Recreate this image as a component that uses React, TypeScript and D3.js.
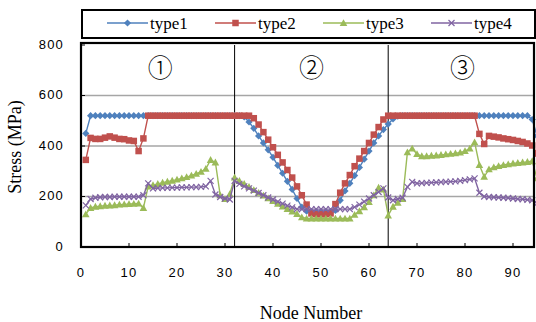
import React from "react";
import * as d3 from "d3";

const nodes = d3.range(1, 96);

const type1 = [
  450, 520, 520, 520, 520, 520, 520, 520, 520, 520,
  520, 520, 520, 520, 520, 520, 520, 520, 520, 520,
  520, 520, 520, 520, 520, 520, 520, 520, 520, 520,
  520, 520, 520, 515, 495, 470, 440, 412, 385, 355,
  323, 292, 260, 228, 192, 158, 142, 140, 140, 140,
  140, 140, 145, 185, 222, 252, 283, 315, 348, 380,
  412, 440, 465, 487, 507, 518, 520, 520, 520, 520,
  520, 520, 520, 520, 520, 520, 520, 520, 520, 520,
  520, 520, 520, 520, 520, 520, 520, 520, 520, 520,
  520, 520, 520, 505, 440,
];

const type2 = [
  345, 432, 428, 428, 433, 438, 433, 428, 427, 422,
  420, 380, 430, 520, 520, 520, 520, 520, 520, 520,
  520, 520, 520, 520, 520, 520, 520, 520, 520, 520,
  520, 520, 520, 520, 520, 510, 485, 455, 425, 395,
  365, 335, 305, 275, 240, 205, 168, 133, 130, 130,
  130, 133, 170, 215, 252, 285, 320, 350, 380, 412,
  445, 475, 505, 520, 520, 520, 520, 520, 520, 520,
  520, 520, 520, 520, 520, 520, 520, 520, 520, 520,
  520, 520, 448, 408, 440, 437, 434, 430, 427, 424,
  420, 416, 410, 402, 370,
];

const type3 = [
  130, 155, 160, 162, 164, 165, 166, 168, 169, 170,
  171, 172, 155, 240, 245, 250, 255, 259, 263, 267,
  272, 277, 283, 290, 298, 310, 345, 335, 205, 190,
  210, 275, 262, 250, 238, 226, 215, 204, 193, 182,
  171, 161, 151, 141, 131, 118, 113, 113, 113, 113,
  113, 113, 113, 113, 113, 113, 128, 142, 158, 178,
  205, 235, 228, 125, 160, 175, 190, 375, 390, 368,
  360, 360, 362, 363, 365, 367, 369, 371, 374, 380,
  390, 415, 325, 278, 308, 316, 321, 325, 328, 331,
  333, 335, 337, 340, 272,
];

const type4 = [
  165, 190, 195, 197, 198, 198, 199, 199, 199, 199,
  199, 199, 205, 252, 232, 233, 234, 234, 235, 235,
  236, 236, 237, 237, 238, 240, 262, 208, 198, 192,
  188, 262, 250, 240, 232, 223, 214, 205, 196, 188,
  180, 172, 164, 157, 150, 150, 150, 150, 150, 150,
  150, 150, 150, 150, 150, 150, 158, 168, 180, 192,
  205, 218, 232, 196, 185, 190, 195, 238, 258, 252,
  253, 254, 255, 256, 257, 258, 259, 260, 262, 265,
  268, 272, 215, 200, 198, 197, 196, 195, 194, 192,
  190, 189, 187, 185, 173,
];

const seriesNames = ["type1", "type2", "type3", "type4"];
const seriesValues = [type1, type2, type3, type4];
const seriesColors = ["#4F81BD", "#C0504D", "#9BBB59", "#8064A2"];
const markerKinds = ["diamond", "square", "triangle", "x"];

const xTicks = [0, 10, 20, 30, 40, 50, 60, 70, 80, 90];
const yTicks = [0, 200, 400, 600, 800];
const gridValues = [200, 400, 600];
const regionBounds = [32, 64];
const regionLabels = ["①", "②", "③"];
const regionLabelNodes = [16.5, 48, 79.5];

const W = 536;
const H = 322;
const left = 81;
const right = 535;
const top = 45;
const bottom = 247;

const serif = "'Liberation Serif', 'Times New Roman', serif";
const sans = "'Liberation Sans', Arial, sans-serif";

function Marker({ kind, cx, cy, color }: { kind: string; cx: number; cy: number; color: string }) {
  if (kind === "diamond") {
    const r = 3.6;
    return <path d={`M${cx},${cy - r}L${cx + r},${cy}L${cx},${cy + r}L${cx - r},${cy}Z`} fill={color} />;
  }
  if (kind === "square") {
    const s = 6.5;
    return <rect x={cx - s / 2} y={cy - s / 2} width={s} height={s} fill={color} />;
  }
  if (kind === "triangle") {
    const r = 3.8;
    return <path d={`M${cx},${cy - r}L${cx + r},${cy + r * 0.8}L${cx - r},${cy + r * 0.8}Z`} fill={color} />;
  }
  const r = 3;
  return (
    <g stroke={color} strokeWidth={1.2}>
      <line x1={cx - r} y1={cy - r} x2={cx + r} y2={cy + r} />
      <line x1={cx - r} y1={cy + r} x2={cx + r} y2={cy - r} />
    </g>
  );
}

export default function App() {
  const x = d3.scaleLinear().domain([0, 95]).range([left, 537]);
  const y = d3.scaleLinear().domain([0, 800]).range([bottom, top]);
  const line = d3
    .line<number>()
    .x((_, i) => x(nodes[i]))
    .y((v) => y(v));

  return (
    <svg width={W} height={H} style={{ position: "absolute", left: 0, top: 0, background: "#fff" }}>
      <rect x={0} y={0} width={W} height={H} fill="#fff" />
      {gridValues.map((g) => (
        <line key={g} x1={left} x2={right} y1={y(g)} y2={y(g)} stroke="#a6a6a6" strokeWidth={1.5} />
      ))}
      {regionBounds.map((b) => (
        <line key={b} x1={x(b)} x2={x(b)} y1={top} y2={bottom} stroke="#000" strokeWidth={1} />
      ))}
      {regionLabels.map((t, i) => (
        <text
          key={t}
          x={x(regionLabelNodes[i])}
          y={66}
          textAnchor="middle"
          dominantBaseline="central"
          fontSize={25}
          fontFamily="'Noto Sans CJK JP', 'DejaVu Sans', serif"
          fontWeight={300}
          fill="#000"
        >
          {t}
        </text>
      ))}
      <defs>
        <clipPath id="plotclip">
          <rect x={left - 6} y={top - 6} width={right - left + 12} height={bottom - top + 12} />
        </clipPath>
      </defs>
      <g clipPath="url(#plotclip)">
        {seriesValues.map((vals, si) => (
          <g key={seriesNames[si]}>
            <path d={line(vals) || ""} fill="none" stroke={seriesColors[si]} strokeWidth={1.4} />
            {vals.map((v, i) => (
              <Marker key={i} kind={markerKinds[si]} cx={x(nodes[i])} cy={y(v)} color={seriesColors[si]} />
            ))}
          </g>
        ))}
      </g>
      {xTicks.map((t) => (
        <line key={t} x1={x(t)} x2={x(t)} y1={bottom} y2={bottom - 4} stroke="#000" strokeWidth={1} />
      ))}
      {yTicks.map((t) => (
        <line key={t} x1={left} x2={left + 4} y1={y(t)} y2={y(t)} stroke="#000" strokeWidth={1} />
      ))}
      <rect x={left} y={top - 2} width={right - left - 1} height={bottom - top + 2} fill="none" stroke="#000" strokeWidth={2.2} />
      {xTicks.map((t) => (
        <text key={t} x={x(t)} y={272} textAnchor="middle" dominantBaseline="central" fontSize={13} fontFamily={sans} letterSpacing={1.2} fill="#000">
          {t}
        </text>
      ))}
      {yTicks.map((t) => (
        <text key={t} x={64} y={y(t) - 1} textAnchor="end" dominantBaseline="central" fontSize={13} fontFamily={sans} letterSpacing={1.2} fill="#000">
          {t}
        </text>
      ))}
      <text x={311} y={313} textAnchor="middle" dominantBaseline="central" fontSize={18} fontFamily={serif} fill="#000">
        Node Number
      </text>
      <text
        transform={`translate(15,147) rotate(-90)`}
        textAnchor="middle"
        dominantBaseline="central"
        fontSize={18}
        fontFamily={serif}
        fill="#000"
      >
        Stress (MPa)
      </text>
      <rect x={82} y={10} width={453} height={28} fill="#fff" stroke="#000" strokeWidth={2} />
      {seriesNames.map((n, i) => {
        const x0 = 107 + i * 108;
        const cy = 23;
        return (
          <g key={n}>
            <line x1={x0} x2={x0 + 41} y1={cy} y2={cy} stroke={seriesColors[i]} strokeWidth={1.3} />
            <Marker kind={markerKinds[i]} cx={x0 + 20.5} cy={cy} color={seriesColors[i]} />
            <text x={x0 + 43} y={cy} dominantBaseline="central" fontSize={17} fontFamily={serif} fill="#000">
              {n}
            </text>
          </g>
        );
      })}
    </svg>
  );
}
